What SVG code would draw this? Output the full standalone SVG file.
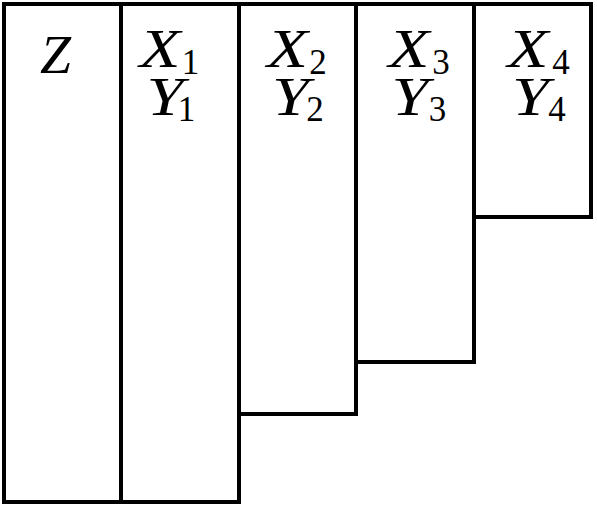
<svg xmlns="http://www.w3.org/2000/svg" width="597" height="505" viewBox="0 0 597 505">
<style>
.box{fill:#ffffff;stroke:#000000;stroke-width:4}
.v{font-family:"Liberation Serif","DejaVu Serif",serif;font-style:italic;font-size:54px;fill:#000;text-anchor:middle}
.s{font-family:"Liberation Serif","DejaVu Serif",serif;font-size:35px;fill:#000;text-anchor:middle}
</style>
<rect x="0" y="0" width="597" height="505" fill="#ffffff"/>
<g id="col-z">
<rect class="box" x="4" y="4" width="117" height="498"/>
<text class="v" x="55.5" y="73" textLength="31" lengthAdjust="spacingAndGlyphs">Z</text>
</g>
<g id="col-1">
<rect class="box" x="121" y="4" width="118" height="498"/>
<text class="v" x="160" y="67" textLength="41" lengthAdjust="spacingAndGlyphs">X</text>
<text class="s" x="190.5" y="74">1</text>
<text class="v" x="165" y="115" textLength="37" lengthAdjust="spacingAndGlyphs">Y</text>
<text class="s" x="186.5" y="121">1</text>
</g>
<g id="col-2">
<rect class="box" x="239" y="4" width="117" height="410"/>
<text class="v" x="287.5" y="67" textLength="41" lengthAdjust="spacingAndGlyphs">X</text>
<text class="s" x="318" y="74">2</text>
<text class="v" x="290.5" y="115" textLength="37" lengthAdjust="spacingAndGlyphs">Y</text>
<text class="s" x="315" y="121">2</text>
</g>
<g id="col-3">
<rect class="box" x="356" y="4" width="118" height="358"/>
<text class="v" x="409" y="67" textLength="41" lengthAdjust="spacingAndGlyphs">X</text>
<text class="s" x="441" y="74">3</text>
<text class="v" x="410" y="115" textLength="37" lengthAdjust="spacingAndGlyphs">Y</text>
<text class="s" x="437.5" y="121">3</text>
</g>
<g id="col-4">
<rect class="box" x="474" y="4" width="117" height="213"/>
<text class="v" x="528" y="67" textLength="41" lengthAdjust="spacingAndGlyphs">X</text>
<text class="s" x="561" y="74">4</text>
<text class="v" x="530.5" y="115" textLength="37" lengthAdjust="spacingAndGlyphs">Y</text>
<text class="s" x="557" y="121">4</text>
</g>
<g id="connectors"></g>
</svg>
